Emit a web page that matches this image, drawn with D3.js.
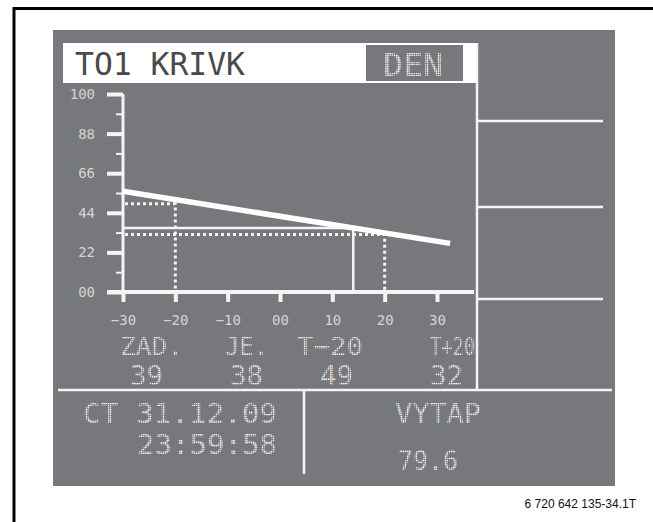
<!DOCTYPE html>
<html>
<head>
<meta charset="utf-8">
<script src="https://cdn.jsdelivr.net/npm/d3@7"></script>
<style>
  body { margin: 0; background: #fff; }
</style>
</head>
<body>
<svg id="chart" width="653" height="522"></svg>
<script>
// ==================================
// DATA (read off the display)
// ==================================
const xTicks = [-30, -20, -10, 0, 10, 20, 30];
const xTickLabels = ["−30", "−20", "−10", "00", "10", "20", "30"];
const yTicks = [0, 22, 44, 66, 88, 110];
const yTickLabels = ["00", "22", "44", "66", "88", "100"];
const yMinorTicks = [11, 33, 55, 77, 99];

// heating curve (outdoor temp -> flow temp)
const curveT = [-30, 32.5];
const curveV = [56, 27];
// dotted helper points T-20 / T+20
const dottedT = [-20, 20];
const dottedV = [49, 32];
// current operating point
const currentT = [14];
const currentV = [35.5];

const infoLabels = ["ZAD.", "JE.", "T−20", "T+20"];
const infoValues = ["39", "38", "49", "32"];

const title = "TO1 KRIVK";
const mode = "DEN";
const clockLines = ["CT 31.12.09", "23:59:58"];
const outputLabel = "VYTAP";
const outputValue = "79.6";
const figureCode = "6 720 642 135-34.1T";

// ==================================
// LAYOUT
// ==================================
const GRAY = "#77787c";
const WHITE = "#f4f4f4";
const MONO = "'DejaVu Sans Mono', monospace";
const svg = d3.select("#chart");

// dot-matrix look for the light LCD text
svg.append("defs").append("pattern").attr("id", "dots")
    .attr("width", 2.2).attr("height", 2.2).attr("patternUnits", "userSpaceOnUse")
  .append("rect").attr("width", 1.6).attr("height", 1.6).attr("fill", "#f2f2f2");
const LCD = "url(#dots)";

// helper for the LCD style text
function lcdText(s, xx, yy, size, len, fill) {
  return svg.append("text").attr("x", xx).attr("y", yy)
      .style("font-family", MONO).style("font-size", size + "px")
      .attr("textLength", len).attr("lengthAdjust", "spacingAndGlyphs")
      .attr("fill", fill || LCD).text(s);
}

// page frame (left and top)
svg.append("path").attr("d", "M14,522 V8.5 H653")
    .attr("fill", "none").attr("stroke", "#000").attr("stroke-width", 3);

// gray display
svg.append("rect").attr("x", 53).attr("y", 30).attr("width", 562).attr("height", 456)
    .attr("fill", GRAY);

// header
svg.append("rect").attr("x", 63).attr("y", 43).attr("width", 414).attr("height", 40).attr("fill", "#fff");
lcdText(title, 75, 75, 32, 170, "#4a4a4a");
svg.append("rect").attr("x", 366).attr("y", 45).attr("width", 97).attr("height", 36).attr("fill", GRAY);
lcdText(mode, 383, 76, 32, 60);

// separators
const sep = svg.append("g").attr("stroke", WHITE).attr("stroke-width", 2.5).attr("fill", "none");
sep.append("line").attr("x1", 477).attr("x2", 477).attr("y1", 43).attr("y2", 390);
[121, 207, 299].forEach(yy => {
  sep.append("line").attr("x1", 477).attr("x2", 603).attr("y1", yy).attr("y2", yy);
});
sep.append("line").attr("x1", 58).attr("x2", 612).attr("y1", 390).attr("y2", 390);
sep.append("line").attr("x1", 304).attr("x2", 304).attr("y1", 390).attr("y2", 474);

// ==================================
// CHART
// ==================================
const x = d3.scaleLinear().domain([-30, 30]).range([123, 437]);
const y = d3.scaleLinear().domain([0, 110]).range([292, 94]);

// y axis, major ticks with labels
const yAxis = svg.append("g").attr("transform", "translate(123,0)")
    .call(d3.axisLeft(y).tickValues(yTicks).tickSize(16).tickPadding(12)
      .tickFormat((d, i) => yTickLabels[i]));
yAxis.select(".domain").remove();
yAxis.selectAll(".tick line").attr("stroke", WHITE).attr("stroke-width", 4);
yAxis.selectAll(".tick text").attr("fill", "#d4d4d4")
    .style("font-family", MONO).style("font-size", "14px");

// y minor ticks
const yMinor = svg.append("g").attr("transform", "translate(123,0)")
    .call(d3.axisLeft(y).tickValues(yMinorTicks).tickSize(7).tickFormat(""));
yMinor.select(".domain").remove();
yMinor.selectAll(".tick line").attr("stroke", WHITE).attr("stroke-width", 2);

// x axis
const xAxis = svg.append("g").attr("transform", "translate(0,292)")
    .call(d3.axisBottom(x).tickValues(xTicks).tickSize(10).tickPadding(13)
      .tickFormat((d, i) => xTickLabels[i]));
xAxis.select(".domain").remove();
xAxis.selectAll(".tick line").attr("stroke", WHITE).attr("stroke-width", 4);
xAxis.selectAll(".tick text").attr("fill", "#d4d4d4")
    .style("font-family", MONO).style("font-size", "14px");

// axis lines
svg.append("line").attr("x1", x(-30)).attr("x2", x(-30)).attr("y1", y(110)).attr("y2", y(0))
    .attr("stroke", WHITE).attr("stroke-width", 3);
svg.append("line").attr("x1", 107).attr("x2", 474).attr("y1", y(0)).attr("y2", y(0))
    .attr("stroke", WHITE).attr("stroke-width", 4);

// dotted helper lines
const dots = svg.append("g").attr("stroke", WHITE).attr("stroke-width", 3)
    .attr("stroke-dasharray", "3,3").attr("fill", "none");
dottedT.forEach((t, i) => {
  dots.append("path").attr("d", d3.line()([[x(-30) + 2, y(dottedV[i])], [x(t), y(dottedV[i])], [x(t), y(0) - 2]]));
});

// current point lines
currentT.forEach((t, i) => {
  svg.append("path").attr("d", d3.line()([[x(-30), y(currentV[i])], [x(t), y(currentV[i])], [x(t), y(0)]]))
      .attr("fill", "none").attr("stroke", WHITE).attr("stroke-width", 2.5);
});

// heating curve
svg.append("path")
    .datum(curveT.map((t, i) => [t, curveV[i]]))
    .attr("d", d3.line().x(d => x(d[0])).y(d => y(d[1])))
    .attr("fill", "none").attr("stroke", "#fff").attr("stroke-width", 5.5);

// ==================================
// INFO ROWS
// ==================================
const labelX = [120, 225, 297, 430];
const labelW = [63, 43, 66, 45];
const valueX = [130, 230, 320, 430];
infoLabels.forEach((s, i) => lcdText(s, labelX[i], 355, 25, labelW[i]));
infoValues.forEach((s, i) => lcdText(s, valueX[i], 385, 26, 33));

// clock and output
lcdText(clockLines[0], 83, 423, 26.5, 194);
lcdText(clockLines[1], 137, 454, 26.5, 140);
lcdText(outputLabel, 395, 423, 26.5, 86);
lcdText(outputValue, 398, 470, 26.5, 60);

// figure code
svg.append("text").attr("x", 636).attr("y", 508).attr("text-anchor", "end")
    .style("font-family", "Liberation Sans, Arial, sans-serif").style("font-size", "12px")
    .attr("fill", "#111").text(figureCode);
</script>
</body>
</html>
